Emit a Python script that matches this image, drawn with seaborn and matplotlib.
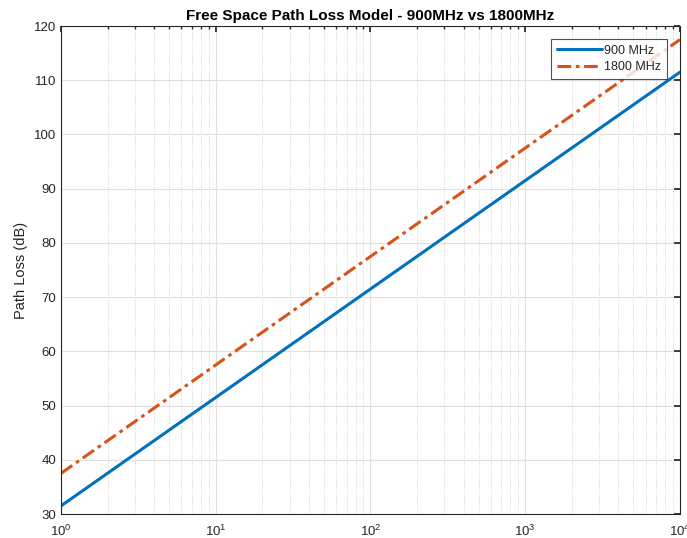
import numpy as np
import pandas as pd
import matplotlib
matplotlib.use("Agg")
import matplotlib.pyplot as plt
import seaborn as sns
from matplotlib.ticker import LogLocator, NullFormatter

# Data (distance, path loss in dB)
distance = [1, 10, 100, 1000, 10000]
loss_900 = [31.5, 51.5, 71.5, 91.5, 111.5]
loss_1800 = [37.5, 57.5, 77.5, 97.5, 117.5]
series_names = ["900 MHz", "1800 MHz"]
y_ticks = [30, 40, 50, 60, 70, 80, 90, 100, 110, 120]

df = pd.DataFrame({
    "distance": distance * 2,
    "loss": loss_900 + loss_1800,
    "series": [series_names[0]] * len(distance) + [series_names[1]] * len(distance),
})

sns.set_theme(style="white")
plt.rcParams["font.family"] = ["Liberation Sans", "DejaVu Sans"]
plt.rcParams["mathtext.fontset"] = "custom"
plt.rcParams["mathtext.rm"] = "Liberation Sans"
plt.rcParams["mathtext.it"] = "Liberation Sans"

fig = plt.figure(figsize=(6.87, 5.38), dpi=100)
ax = fig.add_axes([0.0888, 0.0446, 0.901, 0.907])

palette = {"900 MHz": "#0072BD", "1800 MHz": "#D95319"}
sns.lineplot(data=df, x="distance", y="loss", hue="series", style="series",
             palette=palette, dashes={"900 MHz": "", "1800 MHz": (4.5, 1.5, 1.2, 1.5)},
             linewidth=2.2, ax=ax, legend=True)

ax.set_xscale("log")
ax.set_xlim(1, 10000)
ax.set_ylim(30, 120)
ax.set_yticks(y_ticks)
ax.xaxis.set_major_locator(LogLocator(base=10, numticks=10))
ax.xaxis.set_minor_locator(LogLocator(base=10, subs=np.arange(2, 10), numticks=100))
ax.xaxis.set_minor_formatter(NullFormatter())

ax.grid(True, which="major", color="#e0e0e0", linewidth=0.8, linestyle="-")
ax.grid(True, which="minor", axis="x", color="#c8c8c8", linewidth=0.6, linestyle=":")
ax.set_axisbelow(True)

ax.tick_params(which="both", direction="in", top=True, right=True, colors="#262626",
               labelsize=9.5, length=4)
ax.tick_params(which="minor", length=2.5)
ax.tick_params(axis="x", pad=7)
for s in ax.spines.values():
    s.set_color("#262626")
    s.set_linewidth(0.8)

ax.set_xlabel("")
ax.set_ylabel("Path Loss (dB)", fontsize=10.5, color="#262626")
ax.set_title("Free Space Path Loss Model - 900MHz vs 1800MHz", fontsize=11,
             fontweight="bold", color="black", pad=4)

leg = ax.legend(loc="upper right", fontsize=9, frameon=True, fancybox=False,
                edgecolor="#262626", borderaxespad=1.05, handlelength=3.6,
                borderpad=0.45, labelspacing=0.35, handletextpad=0.2)
leg.get_frame().set_linewidth(0.8)

fig.savefig("out.png", dpi=100)
